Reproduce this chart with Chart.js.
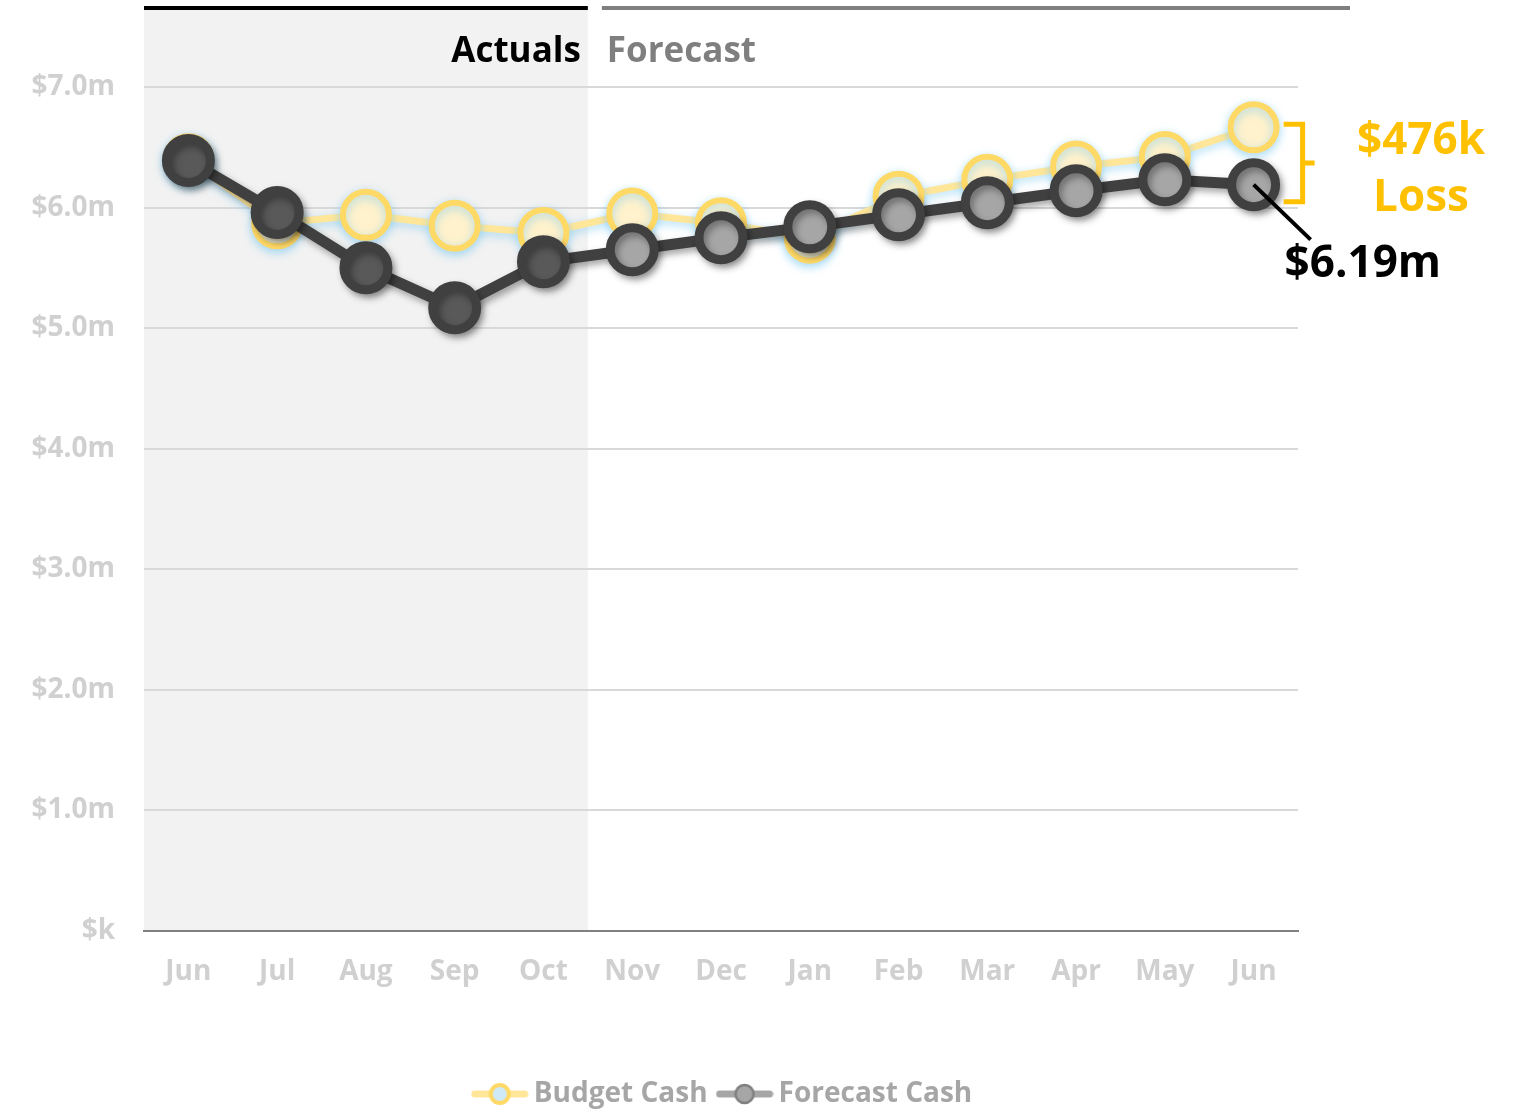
<!DOCTYPE html>
<html>
<head>
<meta charset="utf-8">
<script src="https://cdn.jsdelivr.net/npm/chart.js@4.4.0/dist/chart.umd.min.js"></script>
<style>
html, body { margin: 0; padding: 0; background: #fff; }
#wrap { width: 1519px; height: 1110px; position: relative; }
</style>
</head>
<body>
<div id="wrap"><canvas id="cash_chart"></canvas></div>
<script>
// values in $m
const months = ['Jun', 'Jul', 'Aug', 'Sep', 'Oct', 'Nov', 'Dec', 'Jan', 'Feb', 'Mar', 'Apr', 'May', 'Jun'];
const budgetCash = [6.40, 5.87, 5.94, 5.85, 5.79, 5.95, 5.87, 5.75, 6.09, 6.23, 6.34, 6.42, 6.666];
const forecastCash = [6.39, 5.96, 5.50, 5.17, 5.55, 5.65, 5.75, 5.84, 5.94, 6.04, 6.14, 6.23, 6.19];
const actualsCount = 5; // Jun..Oct are actuals
const periodLabels = ['Actuals', 'Forecast'];

const FONT = '"Open Sans", Lato, sans-serif';

function legendIcon(lineColor, fill, border, bw) {
    const c = document.createElement('canvas');
    c.width = 58;
    c.height = 26;
    const ctx = c.getContext('2d');
    ctx.strokeStyle = lineColor;
    ctx.lineWidth = 7;
    ctx.lineCap = 'round';
    ctx.beginPath();
    ctx.moveTo(4, 13);
    ctx.lineTo(54, 13);
    ctx.stroke();
    ctx.beginPath();
    ctx.arc(29, 13, 9, 0, Math.PI * 2);
    ctx.fillStyle = fill;
    ctx.fill();
    ctx.lineWidth = bw;
    ctx.strokeStyle = border;
    ctx.stroke();
    return c;
}

const icons = [
    legendIcon('#ffe699', '#cfe9f6', '#ffd966', 4),
    legendIcon('#a6a6a6', '#a6a6a6', '#7f7f7f', 2.5)
];

// grey "actuals" band, header bars and labels
const periodPlugin = {
    id: 'periods',
    beforeDraw(chart) {
        const {ctx, chartArea, scales: {x}} = chart;
        const split = (x.getPixelForValue(actualsCount - 1) + x.getPixelForValue(actualsCount)) / 2;
        ctx.save();
        ctx.fillStyle = '#f2f2f2';
        ctx.fillRect(chartArea.left, 8, split - chartArea.left, chartArea.bottom - 8);

        ctx.lineWidth = 4;
        ctx.strokeStyle = '#000';
        ctx.beginPath();
        ctx.moveTo(chartArea.left, 8);
        ctx.lineTo(split, 8);
        ctx.stroke();
        ctx.strokeStyle = '#7f7f7f';
        ctx.beginPath();
        ctx.moveTo(split + 14, 8);
        ctx.lineTo(chartArea.right + 52, 8);
        ctx.stroke();

        ctx.font = 'bold 35px ' + FONT;
        ctx.textBaseline = 'alphabetic';
        ctx.textAlign = 'right';
        ctx.fillStyle = '#000';
        ctx.fillText(periodLabels[0], split - 7, 62);
        ctx.textAlign = 'left';
        ctx.fillStyle = '#7f7f7f';
        ctx.fillText(periodLabels[1], split + 19, 62);
        ctx.restore();
    },
    afterLayout(chart) {
        // centre the legend under the plot like the original
        chart.legend.left += 77;
        chart.legend.right += 77;
        chart.legend.top += 8;
        chart.legend.bottom += 8;
    }
};

const shadowPlugin = {
    id: 'shadows',
    beforeDatasetDraw(chart, args) {
        const ctx = chart.ctx;
        ctx.save();
        if (args.index === 0) {
            ctx.shadowColor = 'rgba(120, 200, 240, 0.6)';
            ctx.shadowBlur = 10;
            ctx.shadowOffsetX = 0;
            ctx.shadowOffsetY = 3;
        } else {
            ctx.shadowColor = 'rgba(0, 0, 0, 0.35)';
            ctx.shadowBlur = 7;
            ctx.shadowOffsetX = 3;
            ctx.shadowOffsetY = 4;
        }
    },
    afterDatasetDraw(chart) {
        chart.ctx.restore();
    }
};

// gap bracket and end label
const notePlugin = {
    id: 'notes',
    afterDatasetsDraw(chart) {
        const {ctx, chartArea} = chart;
        const last = months.length - 1;
        const b = chart.getDatasetMeta(0).data[last];
        const f = chart.getDatasetMeta(1).data[last];
        const gap = Math.round((budgetCash[last] - forecastCash[last]) * 1000);

        ctx.save();
        const top = b.y - 3, bot = f.y + 17, bx = b.x + 49, mid = (top + bot) / 2;
        ctx.strokeStyle = '#ffc000';
        ctx.lineWidth = 5;
        ctx.lineJoin = 'miter';
        ctx.beginPath();
        ctx.moveTo(b.x + 30, top);
        ctx.lineTo(bx, top);
        ctx.lineTo(bx, bot);
        ctx.lineTo(b.x + 30, bot);
        ctx.moveTo(bx, mid);
        ctx.lineTo(bx + 12, mid);
        ctx.stroke();

        ctx.fillStyle = '#ffc000';
        ctx.font = 'bold 44px ' + FONT;
        ctx.textAlign = 'center';
        ctx.textBaseline = 'middle';
        ctx.fillText('$' + gap + 'k', chartArea.right + 123, 141);
        ctx.fillText('Loss', chartArea.right + 123, 198);

        ctx.strokeStyle = '#000';
        ctx.lineWidth = 4;
        ctx.beginPath();
        ctx.moveTo(f.x, f.y);
        ctx.lineTo(f.x + 57, f.y + 55);
        ctx.stroke();

        ctx.fillStyle = '#000';
        ctx.font = 'bold 44px ' + FONT;
        ctx.textAlign = 'left';
        ctx.fillText('$' + forecastCash[last].toFixed(2) + 'm', f.x + 31, f.y + 80);
        ctx.restore();
    }
};

new Chart(document.getElementById('cash_chart'), {
    type: 'line',
    data: {
        labels: months,
        datasets: [
            {
                label: 'Budget Cash',
                data: budgetCash,
                order: 2,
                borderColor: '#ffe699',
                borderWidth: 7,
                tension: 0,
                pointRadius: 23,
                pointBorderWidth: 6,
                pointBorderColor: '#ffd966',
                pointBackgroundColor: '#fff2cc'
            },
            {
                label: 'Forecast Cash',
                data: forecastCash,
                order: 1,
                borderColor: '#404040',
                borderWidth: 11,
                tension: 0,
                pointRadius: 22,
                pointBorderWidth: 9,
                pointBorderColor: '#404040',
                pointBackgroundColor: months.map((m, i) => i < actualsCount ? '#595959' : '#a6a6a6')
            }
        ]
    },
    options: {
        responsive: true,
        maintainAspectRatio: false,
        animation: false,
        events: [],
        layout: { padding: { top: 87, right: 221, left: 0, bottom: 0 } },
        scales: {
            x: {
                offset: true,
                grid: { display: false, drawTicks: false },
                border: { color: '#808080', width: 2 },
                ticks: {
                    color: '#d0d0d0',
                    padding: 24,
                    font: { family: FONT, size: 28, weight: 'bold' }
                },
                afterFit: (s) => { s.height = 124; }
            },
            y: {
                min: 0,
                max: 7,
                grid: { color: '#d9d9d9', lineWidth: 2, drawTicks: false },
                border: { display: false },
                ticks: {
                    stepSize: 1,
                    color: '#d0d0d0',
                    padding: 29,
                    font: { family: FONT, size: 28, weight: 'bold' },
                    callback: (v) => v === 0 ? '$k' : '$' + v.toFixed(1) + 'm'
                },
                afterFit: (s) => { s.width = 144; }
            }
        },
        plugins: {
            tooltip: { enabled: false },
            legend: {
                position: 'bottom',
                labels: {
                    usePointStyle: true,
                    pointStyleWidth: 40,
                    boxHeight: 28,
                    padding: 17,
                    color: '#a6a6a6',
                    font: { family: FONT, size: 28, weight: 'bold' },
                    sort: (a, b) => a.datasetIndex - b.datasetIndex,
                    generateLabels: (chart) => {
                        const items = Chart.defaults.plugins.legend.labels.generateLabels(chart);
                        items.forEach(it => { it.pointStyle = icons[it.datasetIndex]; });
                        return items;
                    }
                }
            }
        }
    },
    plugins: [periodPlugin, shadowPlugin, notePlugin]
});
</script>
</body>
</html>
